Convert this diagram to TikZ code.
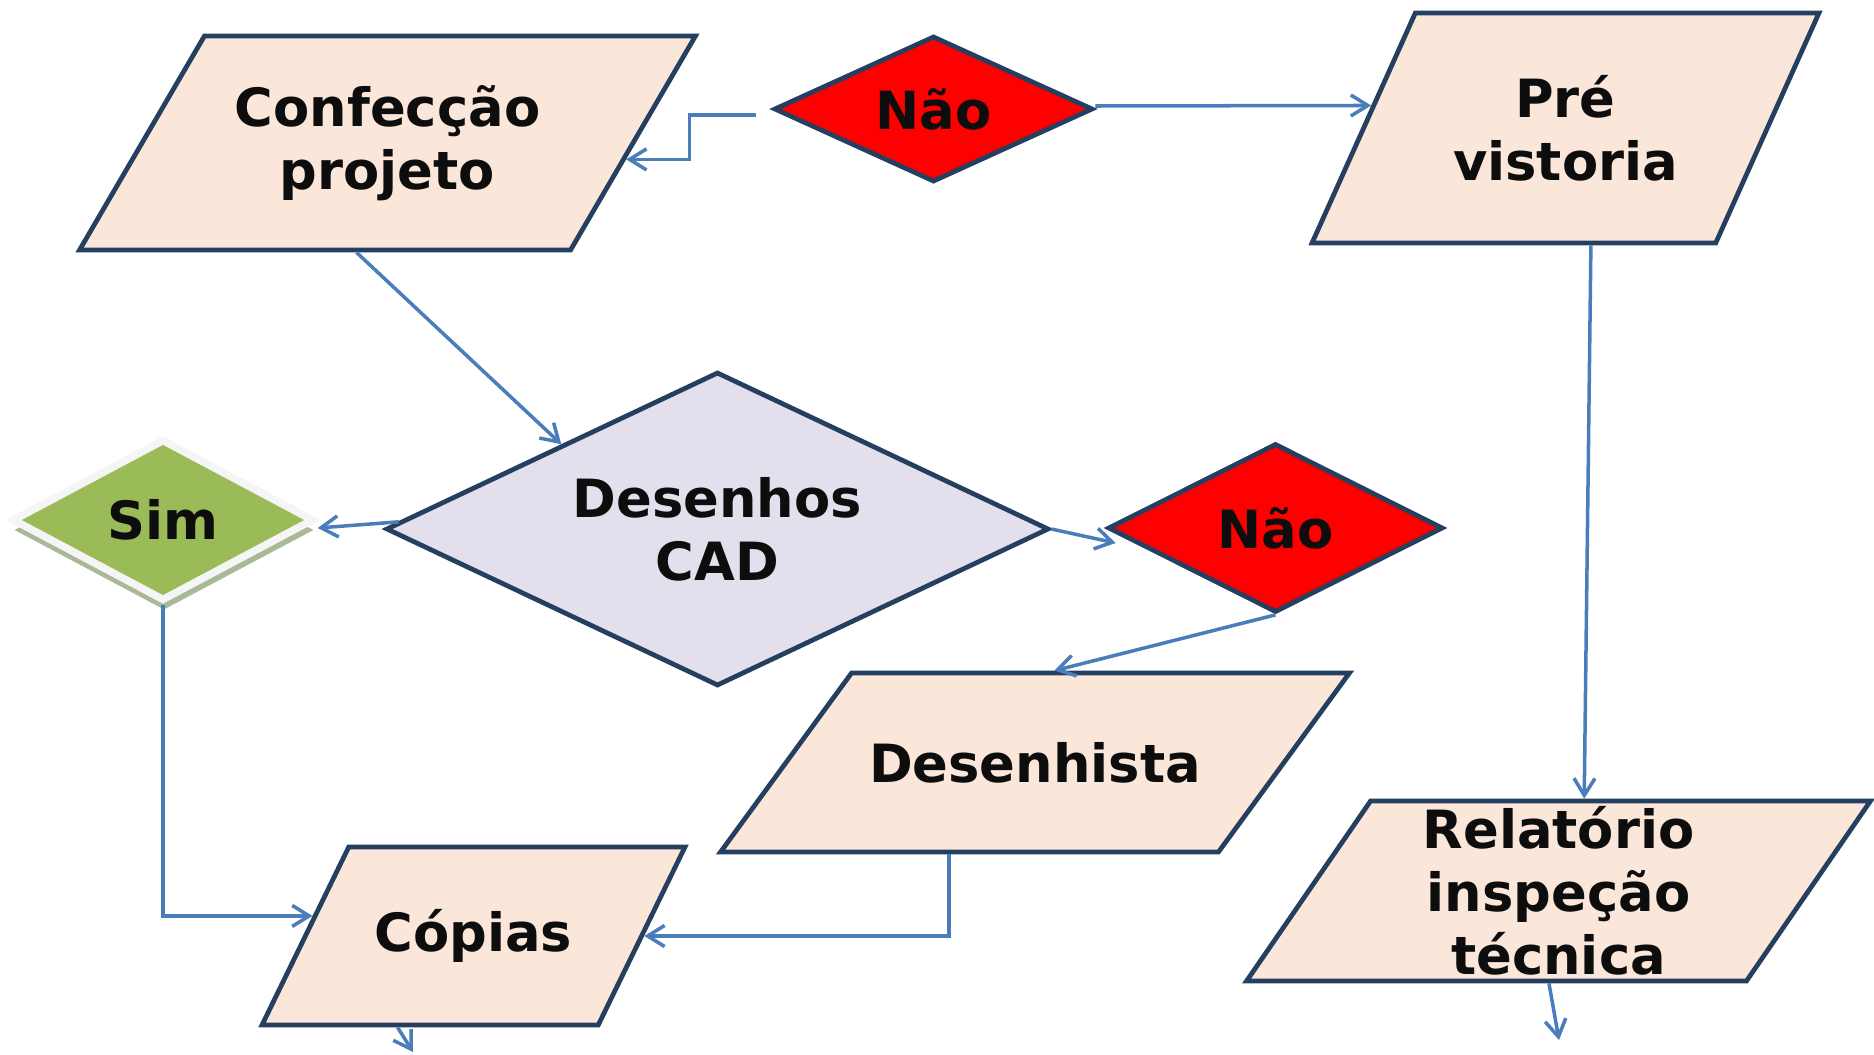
\documentclass[tikz,border=0pt]{standalone}
\usepackage{fontspec}
\setmainfont{DejaVu Sans}
\usepackage{xcolor}
\usetikzlibrary{shapes.geometric,arrows.meta,calc,shadows}

\definecolor{borda}{HTML}{243F60}
\definecolor{pessego}{HTML}{FBE7D9}
\definecolor{lilas}{HTML}{E4DFEC}
\definecolor{verde}{HTML}{9BBB59}
\definecolor{sombra}{HTML}{A9B896}
\definecolor{seta}{HTML}{4A7EBB}
\definecolor{texto}{HTML}{0D0D0D}

\begin{document}
\begin{tikzpicture}[x=0.02cm,y=-0.02cm]
                        \tikzset{Dado/.style={%
                                shape=trapezium,%
                                trapezium stretches body,%
                                draw=borda,%
                                fill=pessego,%
                                line width=2.7pt,%
                                inner sep=0pt,%
                                align=center,%
                                text=texto,%
                                font=\fontsize{30}{36}\selectfont\bfseries,%
                            },
                            Decisao/.style={%
                                shape=diamond,%
                                draw=borda,%
                                line width=2.7pt,%
                                inner sep=0pt,%
                                align=center,%
                                text=texto,%
                                font=\fontsize{30}{36}\selectfont\bfseries,%
                            },
                            Fluxo/.style={%
                                draw=seta,%
                                line width=2pt,%
                                -{Straight Barb[length=0.34cm,width=0.42cm]},%
                            }}
                            \useasboundingbox (0,0) rectangle (1874,1055);

                            \node[Dado, trapezium left angle=42.8, trapezium right angle=137.2, minimum width=12.32cm, minimum height=4.28cm] (conf) at (387.5,143) {Confecção\\projeto};
                            \node[Decisao, fill=red, shape aspect=2.18, minimum width=6.38cm, minimum height=2.92cm] (nao1) at (933.5,109) {Não};
                            \node[Dado, trapezium left angle=45.8, trapezium right angle=134.2, minimum width=10.14cm, minimum height=4.6cm] (pre) at (1565.5,128) {Pré\\vistoria};
                            \node[Decisao, fill=lilas, shape aspect=2.11, minimum width=13.26cm, minimum height=6.28cm] (cad) at (717.5,529) {Desenhos\\CAD};
                            \node[Decisao, fill=verde, draw=gray!8, line width=0.15cm, shape aspect=1.86, minimum width=6.04cm, minimum height=3.24cm,
                                drop shadow={shadow xshift=0.02cm, shadow yshift=-0.2cm, fill=sombra, opacity=1}] (sim) at (163,520) {Sim};
                            \node[Decisao, fill=red, shape aspect=1.98, minimum width=6.7cm, minimum height=3.38cm] (nao2) at (1275.5,528) {Não};
                            \node[Dado, trapezium left angle=17.3, trapezium right angle=162.7, minimum width=12.58cm, minimum height=3.58cm] (desh) at (1035,762.5) {Desenhista};
                            \node[Dado, trapezium left angle=31.5, trapezium right angle=148.5, minimum width=8.46cm, minimum height=3.56cm] (cop) at (473.5,936) {Cópias};
                            \node[Dado, trapezium left angle=53.8, trapezium right angle=126.2, minimum width=12.48cm, minimum height=3.6cm] (rel) at (1558.5,891) {Relatório\\inspeção\\técnica};
                            \coordinate (fimcop) at (413,1052);
                            \coordinate (fimrel) at (1559,1040);

                            \draw[Fluxo] ([shift={(-16,6)}]nao1.west) -- ++(-66,0) |- ($(conf.top right corner)!0.575!(conf.bottom right corner)$);
                            \path ([shift={(0,-3)}]nao1.east) edge[Fluxo] ($(pre.top left corner)!0.404!(pre.bottom left corner)$);
                            \path ($(conf.bottom left corner)!0.566!(conf.bottom right corner)$) edge[Fluxo] ($(cad.west)!0.532!(cad.north)$);
                            \path ($(cad.west)!0.045!(cad.north)$) edge[Fluxo] ([shift={(0,8)}]sim.east);
                            \path (cad.east) edge[Fluxo] ([shift={(10,15)}]nao2.west);
                            \path (nao2.south) edge[Fluxo] ($(desh.top left corner)!0.405!(desh.top right corner)$);
                            \draw[Fluxo] (sim.south) |- ($(cop.top left corner)!0.39!(cop.bottom left corner)$);
                            \draw[Fluxo] ($(desh.bottom left corner)!0.463!(desh.bottom right corner)$) |- (cop.east);
                            \path ($(pre.bottom left corner)!0.691!(pre.bottom right corner)$) edge[Fluxo] ($(rel.top left corner)!0.425!(rel.top right corner)$);
                            \path ($(rel.bottom left corner)!0.607!(rel.bottom right corner)$) edge[Fluxo] (fimrel);
                            \path ($(cop.bottom left corner)!0.408!(cop.bottom right corner)$) edge[Fluxo] (fimcop);
\end{tikzpicture}
\end{document}
